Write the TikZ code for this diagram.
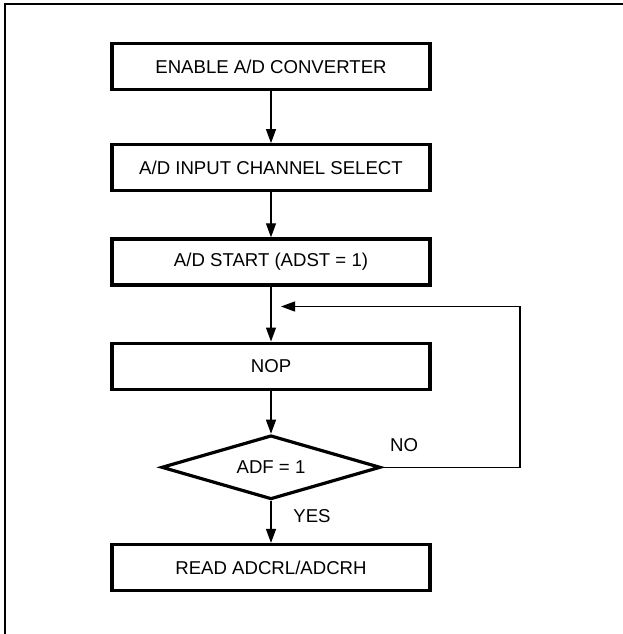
\documentclass[tikz,border=0pt]{standalone}
\usepackage{fontspec}
\setmainfont{Liberation Sans}
\usetikzlibrary{arrows.meta,positioning,shapes.geometric,calc}

\begin{document}
\begin{tikzpicture}[
  x=1pt,y=-1pt,
  node distance=52pt,
  stepbox/.style={draw,line width=3.2pt,minimum width=318pt,minimum height=46pt,inner sep=0pt,font=\fontsize{18.6}{22}\selectfont},
  test/.style={diamond,draw,line width=3.2pt,minimum width=219pt,minimum height=64pt,aspect=3.4,inner sep=0pt,font=\fontsize{18.6}{22}\selectfont},
  lbl/.style={inner sep=0pt,font=\fontsize{18.6}{22}\selectfont},
  arrow/.style={-{Triangle[length=14pt,width=10pt]},line width=1.3pt},
  frame/.style={line width=2.4pt}
]
\useasboundingbox (0,0) rectangle (623,634);
\draw[frame] (623,4) -- (5,4) -- (5,634);
\node[stepbox] (enable) at (271,66.5) {ENABLE A/D CONVERTER};
\node[stepbox,below=of enable] (chan) {A/D INPUT CHANNEL SELECT};
\node[stepbox,below=45pt of chan] (start) {A/D START (ADST = 1)};
\node[stepbox,below=55pt of start] (nop) {NOP};
\node[test,below=43pt of nop] (adf) {ADF = 1};
\node[stepbox,below=42pt of adf] (read) {READ ADCRL/ADCRH};
\coordinate[above right=35pt and 10pt of nop.north] (back);
\node[lbl] (no) at ($(adf.east)+(22pt,22pt)$) {NO};
\node[lbl] (yes) at ($(adf.south)+(41pt,-15pt)$) {YES};
\draw[arrow] (enable) -- (chan);
\draw[arrow] (chan) -- (start);
\draw[arrow] (start) -- (nop);
\draw[arrow] (nop) -- (adf);
\draw[arrow] (adf) -- (read);
\draw[arrow] (adf.east) -- ++(138pt,0) |- (back);
\end{tikzpicture}
\end{document}
